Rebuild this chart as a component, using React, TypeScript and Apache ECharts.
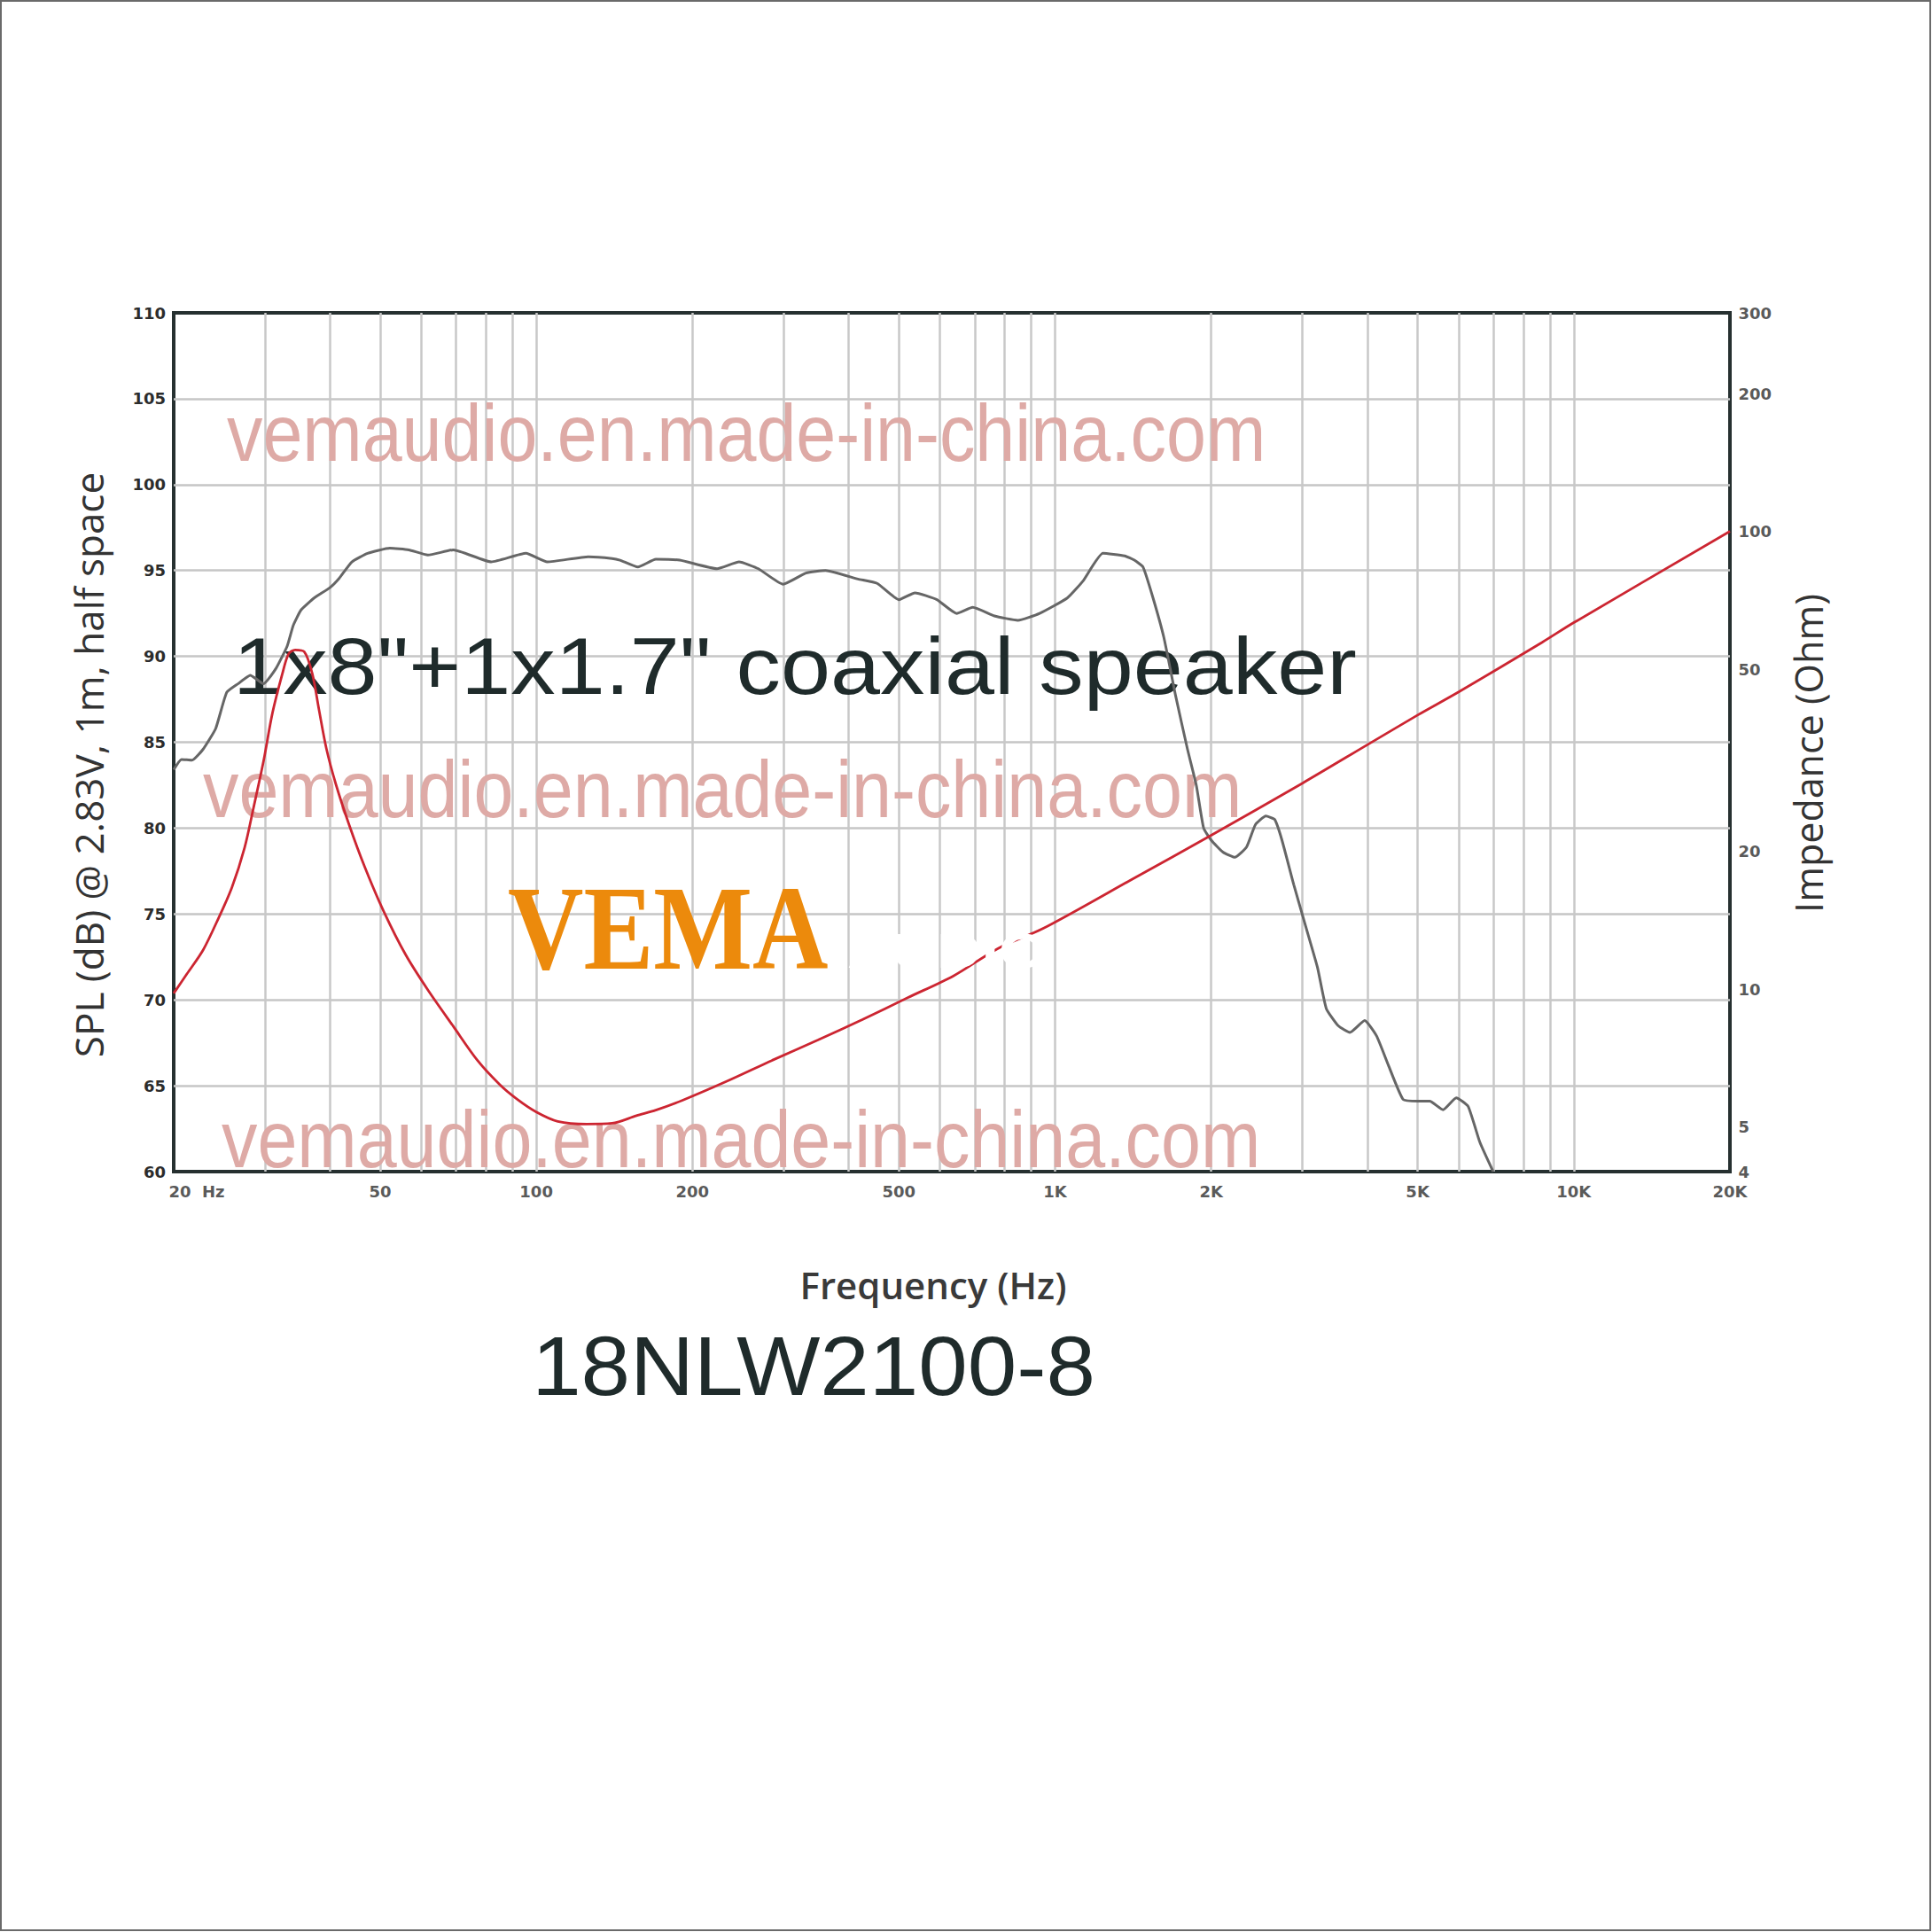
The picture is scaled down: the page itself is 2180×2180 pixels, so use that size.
import React, { useEffect, useRef } from 'react';
import * as echarts from 'echarts';

// SPL response (gray) — frequency in Hz, level in dB
const splFreq = [20, 20.7, 21.7, 22.8, 24.1, 25.3, 26.6, 28.1, 29.8, 31.5, 33.1, 34.0, 35.2, 37.3, 40.0, 41.7, 44.1, 47.3, 52.2, 56.8, 61.8, 69.2, 81.9, 95.5, 105, 126, 140, 145, 157, 170, 189, 223, 246, 268, 299, 331, 361, 417, 454, 500, 537, 592, 646, 694, 764, 848, 934, 1056, 1133, 1237, 1362, 1422, 1478, 1545, 1621, 1708, 1800, 1872, 1934, 2000, 2107, 2221, 2340, 2434, 2549, 2651, 2738, 2886, 3041, 3205, 3333, 3513, 3702, 3953, 4167, 4391, 4689, 5006, 5276, 5596, 5935, 6256, 6593, 6992];
const splDb = [83.4, 84.0, 83.95, 84.6, 85.8, 87.9, 88.4, 88.9, 88.4, 89.3, 90.6, 91.8, 92.7, 93.4, 94.0, 94.55, 95.5, 96.0, 96.3, 96.2, 95.9, 96.2, 95.5, 96.0, 95.5, 95.8, 95.7, 95.6, 95.2, 95.65, 95.6, 95.1, 95.5, 95.1, 94.2, 94.85, 95.0, 94.5, 94.25, 93.3, 93.7, 93.3, 92.5, 92.85, 92.35, 92.1, 92.5, 93.4, 94.4, 96.0, 95.85, 95.6, 95.2, 93.4, 91.1, 87.7, 84.6, 82.5, 80.0, 79.3, 78.6, 78.3, 78.9, 80.2, 80.7, 80.5, 79.3, 76.7, 74.3, 71.9, 69.5, 68.5, 68.1, 68.8, 67.9, 66.2, 64.2, 64.1, 64.1, 63.6, 64.3, 63.8, 61.7, 60.0];

// Impedance (red) — frequency in Hz, impedance in Ohm
const impFreq = [20, 21.2, 22.8, 24.4, 25.9, 27.4, 28.5, 29.8, 31.0, 32.4, 33.3, 34.3, 35.7, 37.0, 38.1, 39.4, 41.1, 43.5, 46.7, 50.8, 56.0, 61.8, 69.2, 77, 85, 92, 100, 110, 125, 140, 156, 170, 191, 233, 285, 349, 426, 521, 637, 778, 951, 1422, 2000, 3000, 4000, 5000, 6000, 8680, 10000, 20000];
const impOhm = [9.8, 10.8, 12.2, 14.3, 16.7, 20.4, 24.9, 31.5, 40.1, 48.9, 54.0, 55.1, 54.6, 48.9, 40.9, 33.5, 28.0, 23.0, 18.5, 14.8, 11.9, 9.97, 8.3, 7.0, 6.2, 5.75, 5.4, 5.15, 5.08, 5.1, 5.3, 5.45, 5.72, 6.3, 7.0, 7.75, 8.6, 9.6, 10.7, 12.3, 13.6, 17.5, 21.7, 28.2, 34.2, 39.7, 44.6, 57.2, 63.2, 100];

// Axes
const xTickFreqs = [20, 50, 100, 200, 500, 1000, 2000, 5000, 10000, 20000];
const xTickLabels = ['20  Hz', '50', '100', '200', '500', '1K', '2K', '5K', '10K', '20K'];
const gridFreqs = [30, 40, 50, 60, 70, 80, 90, 100, 200, 300, 400, 500, 600, 700, 800, 900, 1000, 2000, 3000, 4000, 5000, 6000, 7000, 8000, 9000, 10000];
const impTickValues = [300, 200, 100, 50, 20, 10, 5, 4];
const impTickLabels = ['300', '200', '100', '50', '20', '10', '5', '4'];

// Texts
const watermark = 'vemaudio.en.made-in-china.com';
const subtitle = '1x8"+1x1.7" coaxial speaker';
const modelName = '18NLW2100-8';
const xTitle = 'Frequency (Hz)';
const yTitleLeft = 'SPL (dB) @ 2.83V, 1m, half space';
const yTitleRight = 'Impedance (Ohm)';

const tickFont = { fontFamily: 'DejaVu Sans', fontWeight: 'bold' as const, fontSize: 18, color: '#2c2c2c' };

function buildOption() {
  const wmStyle = (text: string) => ({
    text,
    fontFamily: 'Liberation Sans',
    fontSize: 90,
    fill: '#deaaa6',
    align: 'left',
    verticalAlign: 'middle',
  });
  return {
    animation: false,
    backgroundColor: '#ffffff',
    grid: {
      left: 196,
      top: 353,
      width: 1756,
      height: 969,
      show: true,
      borderColor: '#263030',
      borderWidth: 4,
      backgroundColor: 'transparent',
    },
    xAxis: {
      type: 'log',
      logBase: 10,
      min: 20,
      max: 20000,
      axisLine: { show: false },
      axisTick: { show: false },
      axisLabel: { show: false },
      splitLine: { show: false },
    },
    yAxis: [
      {
        type: 'value',
        min: 60,
        max: 110,
        interval: 5,
        position: 'left',
        axisLine: { show: false },
        axisTick: { show: false },
        axisLabel: { ...tickFont, margin: 9 },
        splitLine: {
          show: true,
          showMinLine: false,
          showMaxLine: false,
          lineStyle: { color: '#c6c6c6', width: 2.5 },
        },
      },
      {
        type: 'log',
        logBase: 10,
        min: 4,
        max: 300,
        position: 'right',
        axisLine: { show: false },
        axisTick: { show: false },
        axisLabel: { show: false },
        splitLine: { show: false },
      },
    ],
    series: [
      {
        type: 'line',
        name: 'SPL',
        xAxisIndex: 0,
        yAxisIndex: 0,
        z: 3,
        symbol: 'none',
        showSymbol: false,
        smooth: 0.15,
        lineStyle: { color: '#666666', width: 3 },
        data: splFreq.map((f, i) => [f, splDb[i]]),
        markLine: {
          silent: true,
          z: 1,
          symbol: ['none', 'none'],
          label: { show: false },
          lineStyle: { color: '#c8c8c8', width: 2.5, type: 'solid' },
          emphasis: { disabled: true },
          data: gridFreqs.map((f) => ({ xAxis: f })),
        },
      },
      {
        type: 'line',
        name: 'Impedance',
        xAxisIndex: 0,
        yAxisIndex: 1,
        z: 3,
        symbol: 'none',
        showSymbol: false,
        smooth: 0.3,
        lineStyle: { color: '#cc2531', width: 2.8 },
        data: impFreq.map((f, i) => [f, impOhm[i]]),
      },
      {
        type: 'scatter',
        name: 'xTicks',
        xAxisIndex: 0,
        yAxisIndex: 0,
        z: 4,
        clip: false,
        silent: true,
        symbolSize: 1,
        itemStyle: { color: 'rgba(0,0,0,0)' },
        label: {
          show: true,
          position: 'bottom',
          distance: 13,
          formatter: (p: any) => p.name,
          ...tickFont,
        },
        data: xTickFreqs.map((f, i) =>
          i === 0
            ? { name: xTickLabels[i], value: [f, 60], label: { offset: [26, 0] } }
            : { name: xTickLabels[i], value: [f, 60] }
        ),
      },
      {
        type: 'scatter',
        name: 'impTicks',
        xAxisIndex: 0,
        yAxisIndex: 1,
        z: 4,
        clip: false,
        silent: true,
        symbolSize: 1,
        itemStyle: { color: 'rgba(0,0,0,0)' },
        label: {
          show: true,
          position: 'right',
          distance: 9,
          formatter: (p: any) => p.name,
          ...tickFont,
        },
        data: impTickValues.map((v, i) => ({ name: impTickLabels[i], value: [20000, v] })),
      },
    ],
    graphic: [
      {
        type: 'rect',
        silent: true,
        z: 0,
        shape: { x: 1, y: 1, width: 2177, height: 2177 },
        style: { fill: 'none', stroke: '#6a6a6a', lineWidth: 2 },
      },
      { type: 'text', x: 256, y: 489, scaleX: 0.898, z: 2, silent: true, style: wmStyle(watermark) },
      { type: 'text', x: 229, y: 891, scaleX: 0.898, z: 2, silent: true, style: wmStyle(watermark) },
      { type: 'text', x: 250, y: 1286, scaleX: 0.898, z: 2, silent: true, style: wmStyle(watermark) },
      {
        type: 'text',
        x: 897,
        y: 752,
        scaleX: 1.12,
        z: 2,
        silent: true,
        style: {
          text: subtitle,
          fontFamily: 'Liberation Sans',
          fontSize: 90,
          fill: '#1f2b2b',
          align: 'center',
          verticalAlign: 'middle',
        },
      },
      {
        type: 'text',
        x: 573,
        y: 1047,
        scaleX: 0.87,
        z: 2,
        silent: true,
        style: {
          text: 'VEMA',
          fontFamily: 'Liberation Serif',
          fontWeight: 'bold',
          fontSize: 136,
          fill: '#ec8a0c',
          align: 'left',
          verticalAlign: 'middle',
        },
      },
      {
        type: 'text',
        x: 956,
        y: 1073,
        scaleX: 1.25,
        z: 6,
        silent: true,
        style: {
          text: 'AUDIO',
          fontFamily: 'Liberation Sans',
          fontWeight: 'bold',
          fontSize: 56,
          fill: '#ffffff',
          align: 'left',
          verticalAlign: 'middle',
        },
      },
      {
        type: 'text',
        x: 1053,
        y: 1449,
        z: 2,
        silent: true,
        style: {
          text: xTitle,
          fontFamily: 'Open Sans',
          fontWeight: 600,
          fontSize: 42,
          fill: '#3a3a3a',
          align: 'center',
          verticalAlign: 'middle',
        },
      },
      {
        type: 'text',
        x: 100,
        y: 863,
        rotation: Math.PI / 2,
        z: 2,
        silent: true,
        style: {
          text: yTitleLeft,
          fontFamily: 'Open Sans',
          fontSize: 44,
          fill: '#333333',
          align: 'center',
          verticalAlign: 'middle',
        },
      },
      {
        type: 'text',
        x: 2040,
        y: 850,
        rotation: Math.PI / 2,
        z: 2,
        silent: true,
        style: {
          text: yTitleRight,
          fontFamily: 'Open Sans',
          fontSize: 43,
          fill: '#333333',
          align: 'center',
          verticalAlign: 'middle',
        },
      },
      {
        type: 'text',
        x: 918,
        y: 1541,
        scaleX: 1.05,
        z: 2,
        silent: true,
        style: {
          text: modelName,
          fontFamily: 'Liberation Sans',
          fontSize: 95,
          fill: '#1f2b2b',
          align: 'center',
          verticalAlign: 'middle',
        },
      },
    ],
  };
}

export default function App() {
  const ref = useRef<HTMLDivElement>(null);
  useEffect(() => {
    if (!ref.current) return;
    const chart = echarts.init(ref.current, null, { renderer: 'svg' });
    chart.setOption(buildOption() as any);
    return () => {
      chart.dispose();
    };
  }, []);
  return (
    <div
      ref={ref}
      style={{ position: 'absolute', left: 0, top: 0, width: 2180, height: 2180, background: '#ffffff' }}
    />
  );
}
